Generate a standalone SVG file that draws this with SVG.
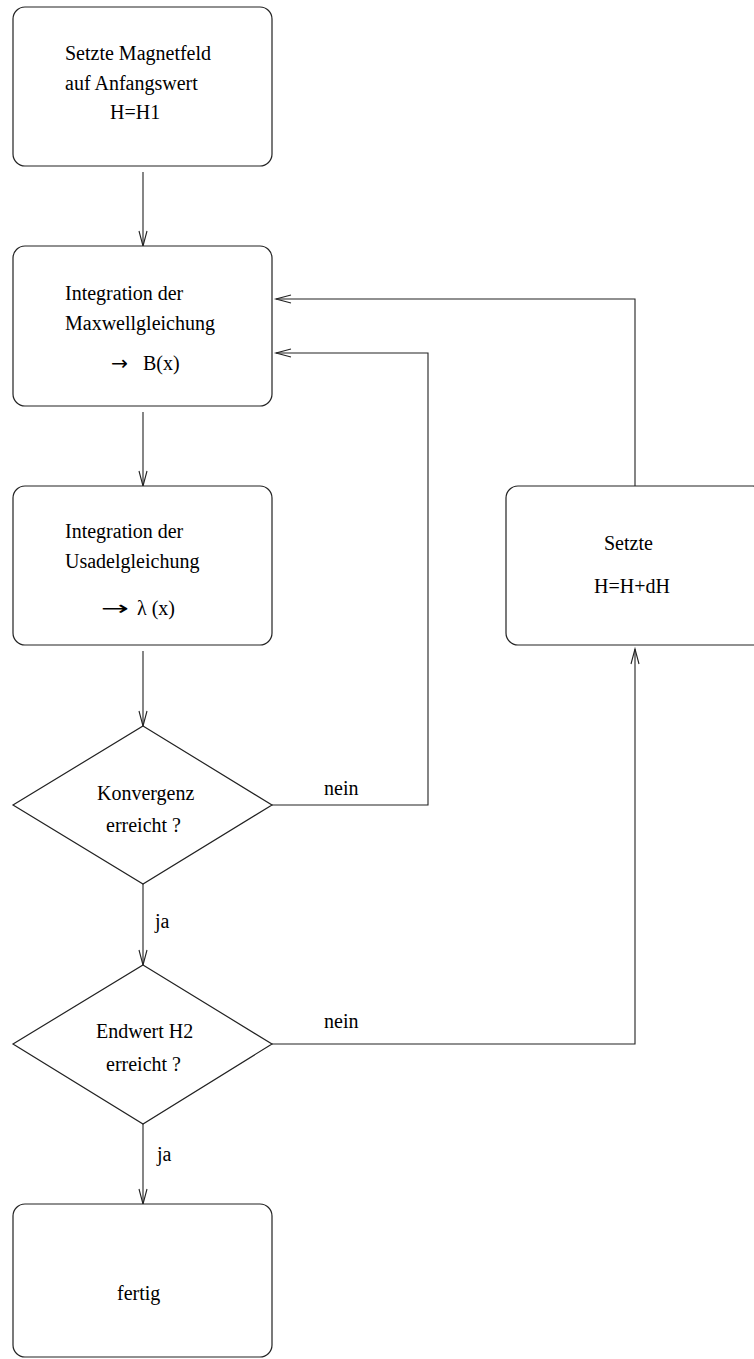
<svg xmlns="http://www.w3.org/2000/svg" width="754" height="1359" viewBox="0 0 754 1359">
<style>
.box{fill:#fff;stroke:#222;stroke-width:1.2}
.t{font-family:"Liberation Serif","Times New Roman",serif;font-size:20px;fill:#000}
.ar{font-family:"DejaVu Sans",sans-serif;font-size:20px;fill:#000}
.c{fill:none;stroke:#222;stroke-width:1.1}
</style>
<defs>
<marker id="ah" markerUnits="userSpaceOnUse" markerWidth="17" markerHeight="10" refX="15" refY="4" orient="auto" overflow="visible">
<path d="M0,0 L15,4 L0,8" fill="none" stroke="#222" stroke-width="1.1"/>
</marker>
</defs>
<rect width="754" height="1359" fill="#fff"/>
<g id="connectors">
<path class="c" d="M143,172 V246" marker-end="url(#ah)"/>
<path class="c" d="M143,412 V486" marker-end="url(#ah)"/>
<path class="c" d="M143,651 V726" marker-end="url(#ah)"/>
<path class="c" d="M143,884 V965" marker-end="url(#ah)"/>
<path class="c" d="M143,1124 V1204" marker-end="url(#ah)"/>
<path class="c" d="M272,805 H428 V353 H276" marker-end="url(#ah)"/>
<path class="c" d="M635,486 V299 H276" marker-end="url(#ah)"/>
<path class="c" d="M272,1044 H635 V649" marker-end="url(#ah)"/>
<text class="t" x="324" y="795">nein</text>
<text class="t" x="324" y="1028">nein</text>
<text class="t" x="155" y="928">ja</text>
<text class="t" x="157" y="1161">ja</text>
</g>
<g id="n1">
<rect class="box" x="13" y="7" width="259" height="159" rx="12"/>
<text class="t" x="65" y="60">Setzte Magnetfeld</text>
<text class="t" x="65" y="90">auf Anfangswert</text>
<text class="t" x="110" y="119">H=H1</text>
</g>
<g id="n2">
<rect class="box" x="13" y="246" width="259" height="160" rx="12"/>
<text class="t" x="65" y="300">Integration der</text>
<text class="t" x="65" y="330">Maxwellgleichung</text>
<text class="ar" x="111" y="370" textLength="17" lengthAdjust="spacingAndGlyphs">→</text>
<text class="t" x="143" y="370">B(x)</text>
</g>
<g id="n3">
<rect class="box" x="13" y="486" width="259" height="159" rx="12"/>
<text class="t" x="65" y="538">Integration der</text>
<text class="t" x="65" y="568">Usadelgleichung</text>
<text class="ar" x="101" y="615" textLength="28" lengthAdjust="spacingAndGlyphs">→</text>
<text class="t" x="137" y="615">λ (x)</text>
</g>
<g id="n4">
<rect class="box" x="506" y="486" width="259" height="159" rx="12"/>
<text class="t" x="604" y="550">Setzte</text>
<text class="t" x="594" y="593">H=H+dH</text>
</g>
<g id="d1">
<polygon class="box" points="143,726 272,805 143,884 13,805"/>
<text class="t" x="97" y="800">Konvergenz</text>
<text class="t" x="106" y="832">erreicht ?</text>
</g>
<g id="d2">
<polygon class="box" points="143,965 272,1044 143,1124 13,1044"/>
<text class="t" x="96" y="1038">Endwert H2</text>
<text class="t" x="106" y="1071">erreicht ?</text>
</g>
<g id="n5">
<rect class="box" x="13" y="1204" width="259" height="153" rx="12"/>
<text class="t" x="117" y="1300">fertig</text>
</g>
</svg>
